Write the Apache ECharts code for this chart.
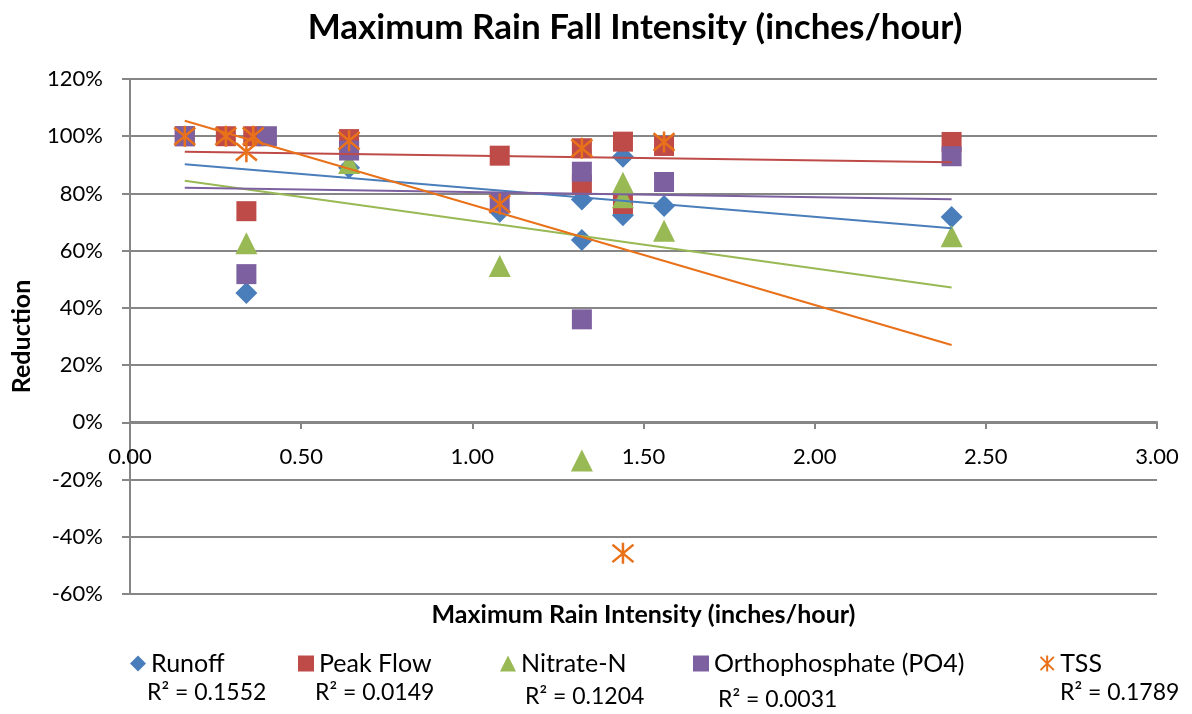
<!DOCTYPE html>
<html>
<head>
<meta charset="utf-8">
<script src="https://cdn.jsdelivr.net/npm/echarts@6/dist/echarts.min.js"></script>
<style>
  html, body { margin: 0; padding: 0; background: #fff; }
  #main { width: 1192px; height: 714px; }
</style>
</head>
<body>
<div id="main"></div>
<script>
  // data: [max rain intensity, reduction %]
  var runoff = [[0.34, 45.2], [0.64, 89], [1.08, 73.6], [1.32, 77.9], [1.32, 63.7], [1.44, 92.8], [1.44, 72.4], [1.56, 75.6], [2.40, 71.8]];
  var peakFlow = [[0.16, 100], [0.28, 100], [0.36, 100], [0.34, 73.8], [0.64, 99], [1.08, 93.2], [1.32, 95.8], [1.32, 83], [1.44, 98.1], [1.44, 76.3], [1.56, 96.6], [2.40, 98]];
  var nitrate = [[0.34, 62.6], [0.64, 90.6], [1.08, 54.6], [1.32, -13.3], [1.44, 83.7], [1.44, 78.7], [1.56, 67], [2.40, 65]];
  var ortho = [[0.16, 100], [0.40, 100], [0.34, 51.8], [0.64, 95], [1.08, 76.7], [1.32, 87.6], [1.32, 36], [1.56, 84], [2.40, 93]];
  var tss = [[0.16, 100], [0.28, 100], [0.36, 100], [0.34, 94.6], [0.64, 98.4], [1.08, 76.3], [1.32, 95.8], [1.44, -45.8], [1.56, 98]];

  // linear trendline end points (x = 0.16 and x = 2.40)
  var trendRunoff = [[0.16, 90.2], [2.40, 67.8]];
  var trendPeak = [[0.16, 94.6], [2.40, 90.9]];
  var trendNitrate = [[0.16, 84.4], [2.40, 47.1]];
  var trendOrtho = [[0.16, 82], [2.40, 78]];
  var trendTss = [[0.16, 105.4], [2.40, 27]];

  var seriesNames = ['Runoff', 'Peak Flow', 'Nitrate-N', 'Orthophosphate (PO4)', 'TSS'];
  var r2Labels = ['R² = 0.1552', 'R² = 0.0149', 'R² = 0.1204', 'R² = 0.0031', 'R² = 0.1789'];

  var colors = ['#4A7EBB', '#BE4B48', '#98B954', '#7D60A0', '#E8711A'];
  var font = 'Lato, "Open Sans", sans-serif';
  var starPath = 'path://M0,0L20,20M20,0L0,20M10,-2L10,22';

  var chart = echarts.init(document.getElementById('main'));

  function trend(data, color) {
    return {
      type: 'line', data: data, symbol: 'none', silent: true, z: 3,
      lineStyle: { color: color, width: 2 }
    };
  }

  function legendAt(name, left) {
    return {
      data: [name], left: left, top: 651, itemWidth: 16, itemHeight: 16, itemGap: 4, padding: 0,
      textStyle: { fontFamily: font, fontSize: 25, color: '#000' }
    };
  }

  var r2Pos = [[147, 681], [315, 681], [525, 685], [718, 688], [1060, 681]];

  chart.setOption({
    animation: false,
    title: {
      text: 'Maximum Rain Fall Intensity (inches/hour)',
      left: 630, top: 5, textAlign: 'center',
      textStyle: { fontFamily: font, fontSize: 35, fontWeight: 'bold', color: '#000' }
    },
    legend: [
      legendAt(seriesNames[0], 130),
      legendAt(seriesNames[1], 298),
      legendAt(seriesNames[2], 500),
      legendAt(seriesNames[3], 693),
      legendAt(seriesNames[4], 1038)
    ],
    graphic: r2Labels.map(function (t, i) {
      return {
        type: 'text', left: r2Pos[i][0], top: r2Pos[i][1],
        style: { text: t, font: '23px ' + font, fill: '#000' }
      };
    }),
    grid: { left: 130, right: 35, top: 79, bottom: 120, outerBoundsMode: 'none' },
    xAxis: {
      type: 'value', min: 0, max: 3, interval: 0.5,
      // axis drawn at the 0% line
      offset: -172,
      name: 'Maximum Rain Intensity (inches/hour)', nameLocation: 'middle', nameGap: 180,
      nameTextStyle: { fontFamily: font, fontSize: 25, fontWeight: 'bold', color: '#000' },
      axisLine: { onZero: false, lineStyle: { color: '#868686', width: 2 } },
      axisTick: { show: true, length: 7, lineStyle: { color: '#868686', width: 2 } },
      axisLabel: { margin: 24, fontFamily: font, fontSize: 22, color: '#000', formatter: function (v) { return v.toFixed(2); } },
      splitLine: { show: false }
    },
    yAxis: {
      type: 'value', min: -60, max: 120, interval: 20,
      name: 'Reduction', nameLocation: 'middle', nameGap: 96, nameRotate: 90,
      nameTextStyle: { fontFamily: font, fontSize: 25, fontWeight: 'bold', color: '#000' },
      axisLine: { show: true, lineStyle: { color: '#868686', width: 2 } },
      axisTick: { show: true, length: 8, lineStyle: { color: '#868686', width: 2 } },
      axisLabel: { margin: 27, fontFamily: font, fontSize: 22, color: '#000', formatter: function (v) { return v + '%'; } },
      splitLine: { show: true, lineStyle: { color: '#868686', width: 2 } }
    },
    series: [
      { name: seriesNames[0], type: 'scatter', data: runoff, symbol: 'diamond', symbolSize: 22, itemStyle: { color: colors[0], opacity: 1 }, z: 2 },
      { name: seriesNames[1], type: 'scatter', data: peakFlow, symbol: 'rect', symbolSize: 20, itemStyle: { color: colors[1], opacity: 1 }, z: 2 },
      { name: seriesNames[2], type: 'scatter', data: nitrate, symbol: 'triangle', symbolSize: 22, itemStyle: { color: colors[2], opacity: 1 }, z: 2 },
      { name: seriesNames[3], type: 'scatter', data: ortho, symbol: 'rect', symbolSize: 20, itemStyle: { color: colors[3], opacity: 1 }, z: 2 },
      { name: seriesNames[4], type: 'scatter', data: tss, symbol: starPath, symbolSize: 21,
        itemStyle: { color: 'none', borderColor: colors[4], borderWidth: 2.5, opacity: 1 }, z: 4 },
      trend(trendRunoff, colors[0]),
      trend(trendPeak, colors[1]),
      trend(trendNitrate, colors[2]),
      trend(trendOrtho, colors[3]),
      trend(trendTss, colors[4])
    ]
  });
</script>
</body>
</html>
